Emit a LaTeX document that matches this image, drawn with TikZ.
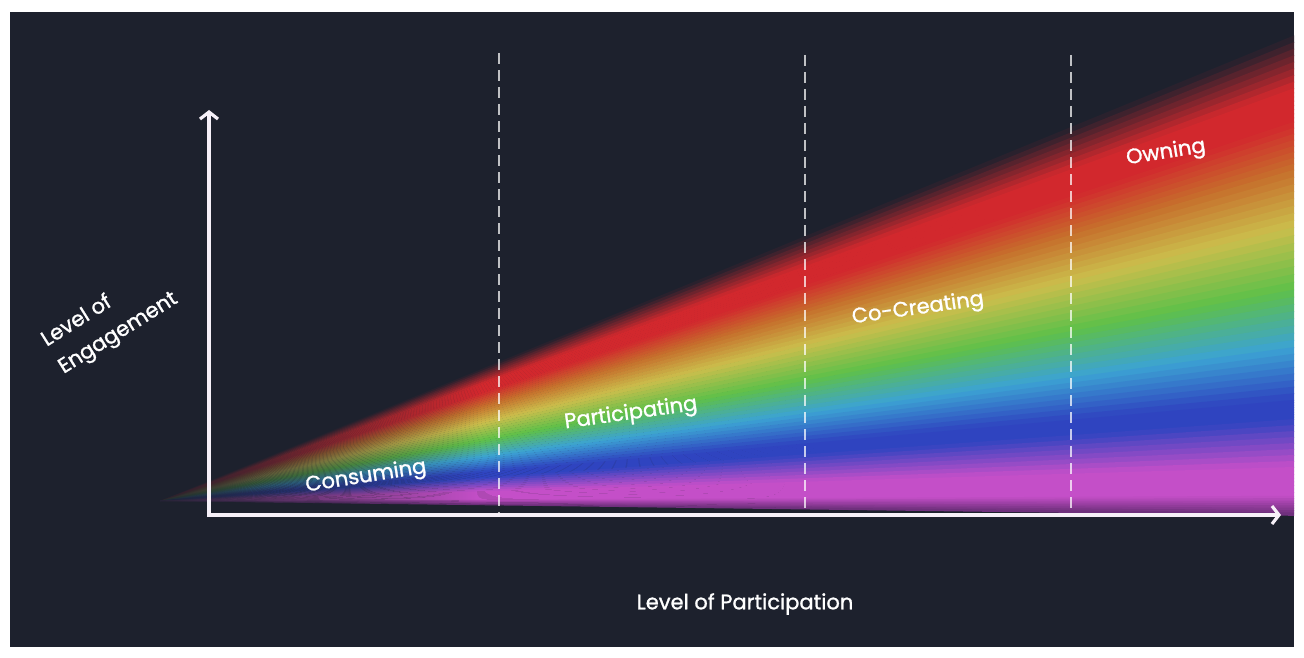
\documentclass[tikz,border=0pt]{standalone}
\usepackage{fontspec}
\setmainfont{Poppins}
\newfontfamily\lblfont{Poppins}[FakeBold=1.2]
\usetikzlibrary{arrows.meta,fadings}
\definecolor{bgc}{HTML}{1D212D}
\definecolor{axc}{HTML}{F6F0F8}
\definecolor{rbR}{HTML}{D2282D}
\definecolor{rbO}{HTML}{C66F2C}
\definecolor{rbY}{HTML}{CBBE4C}
\definecolor{rbG}{HTML}{5EC049}
\definecolor{rbC}{HTML}{3CA3D3}
\definecolor{rbB}{HTML}{2F44C0}
\definecolor{rbM}{HTML}{C44FC8}
\definecolor{rbMd}{HTML}{6A2E78}
\tikzfading[name=fadeR, left color=transparent!0, right color=transparent!100]
\tikzset{
  lbl/.style={text=white, font=\lblfont\fontsize{21}{25}\selectfont, inner sep=0pt},
  dashline/.style={draw=white, draw opacity=0.72, line width=2pt, dash pattern=on 11pt off 6pt},
  axisline/.style={draw=axc, line width=4pt, -{Straight Barb[length=7pt,width=18pt,line width=3.2pt]}}
}
\begin{document}
\begin{tikzpicture}[x=1pt,y=-1pt]
\useasboundingbox (0,0) rectangle (1304,658);
\fill[white] (0,0) rectangle (1304,658);
\fill[bgc] (10,12) rectangle (1294,647);
\begin{scope}
\clip (10,12) rectangle (1294,647);
\coordinate (A) at (160,501);
\def\yT{33}
\def\ySpan{482}
\foreach \ta/\tb/\ca/\cb in {0/0.11/bgc/rbR, 0.11/0.18/rbR/rbR, 0.18/0.28/rbR/rbO, 0.28/0.40/rbO/rbY, 0.40/0.53/rbY/rbG, 0.53/0.65/rbG/rbC, 0.65/0.76/rbC/rbB, 0.76/0.80/rbB/rbB, 0.80/0.90/rbB/rbM, 0.90/0.96/rbM/rbM, 0.96/1.0/rbM/rbMd}{
  \foreach \j in {0,...,7}{
    \pgfmathsetmacro\ya{\yT+\ySpan*(\ta+(\tb-\ta)*\j/8)}
    \pgfmathsetmacro\yb{\yT+\ySpan*(\ta+(\tb-\ta)*(\j+1)/8)+0.9}
    \pgfmathtruncatemacro\p{100-100*(\j+0.5)/8}
    \fill[fill=\ca!\p!\cb] (A) -- (1300,\ya) -- (1300,\yb) -- cycle;
  }
}
\fill[bgc, path fading=fadeR] (140,330) rectangle (480,516);
\end{scope}
% dashed dividers
\coordinate (d1t) at (499,53);  \coordinate (d1b) at (499,513);
\coordinate (d2t) at (805,55);  \coordinate (d2b) at (805,513);
\coordinate (d3t) at (1071,55); \coordinate (d3b) at (1071,513);
\draw[dashline] (d1t) -- (d1b);
\draw[dashline] (d2t) -- (d2b);
\draw[dashline] (d3t) -- (d3b);
% axes
\coordinate (O) at (209,517);
\coordinate (Ox) at (207,515);
\coordinate (Ytip) at (209,110);
\coordinate (Xtip) at (1281,515);
\draw[axisline] (O) -- (Ytip);
\draw[axisline] (Ox) -- (Xtip);
% labels
\node[lbl, rotate=9] (cons) at (366,477) {Consuming};
\node[lbl, rotate=8] (part) at (631,414) {Participating};
\node[lbl, rotate=8] (cocr) at (918,309) {Co-Creating};
\node[lbl, rotate=9] (own) at (1166,153) {Owning};
\node[lbl] (xlab) at (745,604) {Level of Participation};
\node[lbl, rotate=32, align=left, font=\lblfont\fontsize{21}{32}\selectfont] (ylab) at (110,320) {Level of\\Engagement};
\end{tikzpicture}
\end{document}
